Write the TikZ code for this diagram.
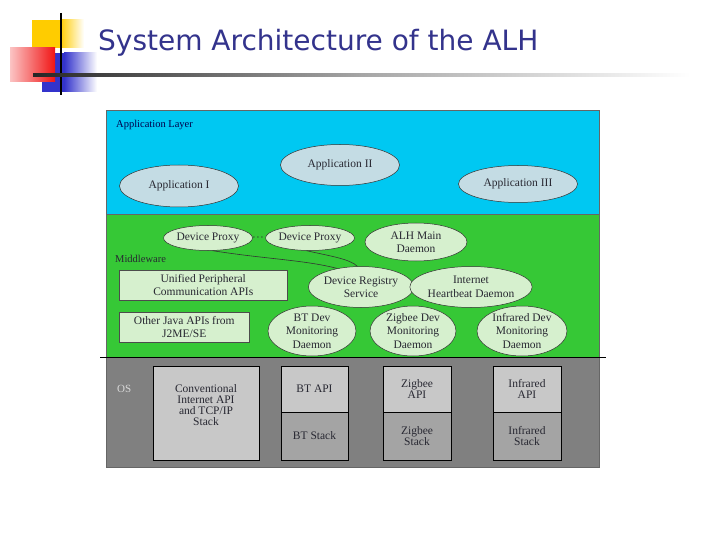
\documentclass[tikz,border=0pt]{standalone}
\usepackage{fontspec}
\setmainfont{Liberation Serif}
\newfontfamily\titlefont{DejaVu Sans}
\usetikzlibrary{shapes.geometric}
\definecolor{titleblue}{RGB}{51,51,140}
\definecolor{appcyan}{RGB}{0,200,242}
\definecolor{mwgreen}{RGB}{54,200,54}
\definecolor{appell}{RGB}{196,220,228}
\definecolor{mwell}{RGB}{214,240,206}
\definecolor{osgray}{RGB}{128,128,128}
\definecolor{lgray}{RGB}{200,200,200}
\definecolor{mgray}{RGB}{164,164,164}
\definecolor{txt}{RGB}{40,40,50}
\definecolor{decoyellow}{RGB}{255,204,0}
\definecolor{decored}{RGB}{240,20,20}
\definecolor{decoblue}{RGB}{51,51,204}
\tikzset{
  lbl/.style={font=\fontsize{11.5}{13.5}\selectfont, text=txt, align=center},
  appell/.style={ellipse, draw=black!80, line width=0.5pt, fill=appell, inner sep=0pt, lbl},
  mwell/.style={ellipse, draw=black!80, line width=0.5pt, fill=mwell, inner sep=0pt, lbl},
  mwbox/.style={rectangle, draw=black!70, line width=0.5pt, fill=mwell, inner sep=0pt, lbl},
  osbox/.style={rectangle, draw=black, line width=0.6pt, inner sep=0pt, lbl, font=\fontsize{11.5}{11}\selectfont},
  layer/.style={draw=black!60, line width=0.5pt},
  link/.style={draw=black!80, line width=0.6pt}
}
\begin{document}
\begin{tikzpicture}[x=1pt,y=-1pt]
\useasboundingbox (0,0) rectangle (720,540);
\fill[white] (0,0) rectangle (720,540);
% decoration
\fill[decoyellow] (32,20) rectangle (60,48);
\shade[left color=decoyellow, right color=white] (60,20) rectangle (84,48);
\fill[decoblue] (42,53) rectangle (64,92);
\shade[left color=decoblue, right color=white] (64,53) rectangle (97,92);
\shade[left color=decored!25, right color=decored] (10,48) rectangle (55,82);
\draw[black, line width=2pt] (61,13) -- (61,95);
\shade[left color=black!85, right color=white, middle color=black!35] (33,73.5) rectangle (690,77);
% title
\node[anchor=base west, inner sep=0pt, text=titleblue, font=\titlefont\fontsize{28}{32}\selectfont] (title) at (98,51) {System Architecture of the ALH};
% layers
\path[layer, fill=appcyan] (106,110) rectangle (599,214);
\path[layer, fill=mwgreen] (106,214) rectangle (599,357);
\path[layer, fill=osgray] (106,357) rectangle (599,467);
\draw[black, line width=0.8pt] (100,357) -- (606,357);
\node[anchor=base west, inner sep=0pt, font=\fontsize{10.5}{12}\selectfont, text=black!70!blue] (applbl) at (116,128) {Application Layer};
\node[anchor=base west, inner sep=0pt, font=\fontsize{10.5}{12}\selectfont, text=txt] (mwlbl) at (115,262) {Middleware};
\node[anchor=base west, inner sep=0pt, font=\fontsize{11}{12}\selectfont, text=black!15] (oslbl) at (117,392) {OS};
% application ellipses
\node[appell, minimum width=119, minimum height=42] (app1) at (179,186) {Application I};
\node[appell, minimum width=119, minimum height=41] (app2) at (340,165) {Application II};
\node[appell, minimum width=119, minimum height=37] (app3) at (518,184) {Application III};
% middleware
\node[mwell, minimum width=80, minimum height=25] (dp1) at (208,238) {Device Proxy};
\node[lbl, inner sep=0pt, font=\bfseries\fontsize{11.5}{13}\selectfont] (dots) at (258,238) {$\cdot\!\cdot\!\cdot$};
\node[mwell, minimum width=76, minimum height=25] (dp2) at (310,238) {Device Proxy};
\node[mwell, minimum width=102, minimum height=38] (alh) at (416,242) {ALH Main\\Daemon};
\node[mwbox, minimum width=168, minimum height=30, anchor=north west] (upc) at (119,270) {Unified Peripheral\\Communication APIs};
\node[mwbox, minimum width=130, minimum height=30, anchor=north west] (java) at (119,312) {Other Java APIs from\\J2ME/SE};
\node[mwell, minimum width=92, minimum height=41] (drs) at (361,287) {Device Registry\\Service};
\node[mwell, minimum width=104, minimum height=41] (ihd) at (471,287) {Internet\\Heartbeat Daemon};
\node[mwell, minimum width=88, minimum height=50] (bt) at (312,331) {BT Dev\\Monitoring\\Daemon};
\node[mwell, minimum width=86, minimum height=50] (zig) at (413,331) {Zigbee Dev\\Monitoring\\Daemon};
\node[mwell, minimum width=90, minimum height=50] (ir) at (522,331) {Infrared Dev\\Monitoring\\Daemon};
\draw[link] (dp1.-70) .. controls (265,259) and (305,260) .. (drs.142);
\draw[link] (dp2.-105) .. controls (330,256) and (350,259) .. (drs.100);
% OS
\node[osbox, fill=lgray, minimum width=106, minimum height=94] (conv) at (206,413) {};
\node[lbl, inner sep=0pt, font=\fontsize{11.5}{11}\selectfont] (convtxt) at ([yshift=8]conv.center) {Conventional\\Internet API\\and TCP/IP\\Stack};
\node[osbox, fill=lgray, minimum width=67, minimum height=46] (btapi) at (314.5,389) {BT API};
\node[osbox, fill=mgray, minimum width=67, minimum height=48] (btstack) at (314.5,436) {BT Stack};
\node[osbox, fill=lgray, minimum width=68, minimum height=46] (zapi) at (417,389) {Zigbee\\API};
\node[osbox, fill=mgray, minimum width=68, minimum height=48] (zstack) at (417,436) {Zigbee\\Stack};
\node[osbox, fill=lgray, minimum width=68, minimum height=46] (iapi) at (527,389) {Infrared\\API};
\node[osbox, fill=mgray, minimum width=68, minimum height=48] (istack) at (527,436) {Infrared\\Stack};
\end{tikzpicture}
\end{document}
